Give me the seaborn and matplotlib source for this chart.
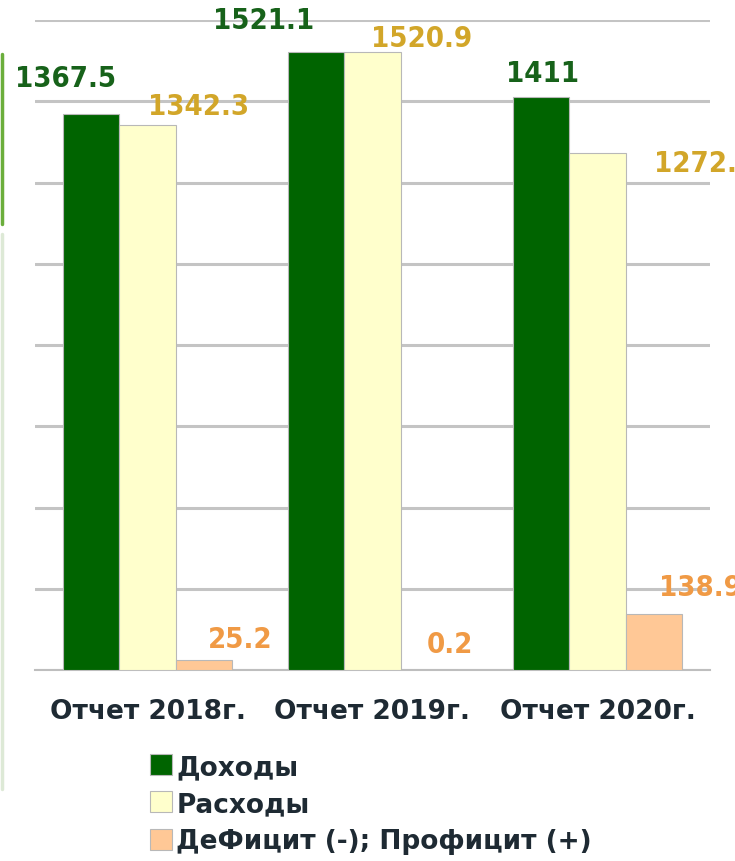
import numpy as np
import pandas as pd
import matplotlib
matplotlib.use("Agg")
import matplotlib.pyplot as plt
from matplotlib.lines import Line2D
import seaborn as sns

categories = ["Отчет 2018г.", "Отчет 2019г.", "Отчет 2020г."]
series = ["Доходы", "Расходы", "ДеФицит (-); Профицит (+)"]
income = [1367.5, 1521.1, 1411]
expenses = [1342.3, 1520.9, 1272.1]
balance = [25.2, 0.2, 138.9]
label_texts = [["1367.5", "1521.1", "1411"],
               ["1342.3", "1520.9", "1272.1"],
               ["25.2", "0.2", "138.9"]]

bar_colors = ["#006400", "#FFFFCC", "#FFC896"]
label_colors = ["#17621A", "#D2A629", "#F09A45"]
# label offsets in pixels relative to the top-centre of each bar
label_offsets = [[(-26, 36), (-53, 32), (1, 24)],
                 [(51, 19), (49, 14), (107, -10)],
                 [(36, 21), (21, 26), (47, 27)]]

df = pd.DataFrame({
    "cat": categories * 3,
    "series": [series[0]] * 3 + [series[1]] * 3 + [series[2]] * 3,
    "value": income + expenses + balance,
})

sns.set_theme(style="white")
plt.rcParams["font.family"] = ["DejaVu Sans"]

fig = plt.figure(figsize=(7.35, 8.62), dpi=100)
ax = fig.add_axes([35 / 735, 1 - 671 / 862, 675 / 735, 650 / 862])

sns.barplot(data=df, x="cat", y="value", hue="series", hue_order=series,
            order=categories, palette=bar_colors, width=0.75, saturation=1,
            edgecolor="#B8B8B8", linewidth=0.8, ax=ax, zorder=3)

ax.set_ylim(0, 1600)
ax.set_xlim(-0.5, 2.5)
ax.set_yticks(np.arange(0, 1601, 200))
ax.yaxis.grid(True, color="#C4C4C4", linewidth=2.2, zorder=0)
ax.set_axisbelow(True)
ax.tick_params(axis="y", left=False, labelleft=False)
for s in ["top", "right", "left"]:
    ax.spines[s].set_visible(False)
ax.spines["bottom"].set_color("#BEBEBE")
ax.spines["bottom"].set_linewidth(1.5)
ax.set_xlabel("")
ax.set_ylabel("")
ax.set_xticks(range(3))
ax.set_xticklabels(categories, fontsize=19, fontweight="bold", color="#1E2A33")
ax.tick_params(axis="x", which="major", length=0, pad=20)
ax.set_xticks([-0.5, 0.5, 1.5, 2.5], minor=True)
ax.tick_params(axis="x", which="minor", length=8, width=1.5, color="#BEBEBE")

for i, cont in enumerate(ax.containers):
    for j, bar in enumerate(cont):
        xc = bar.get_x() + bar.get_width() / 2
        top = bar.get_height()
        dx, dy = label_offsets[i][j]
        ax.annotate(label_texts[i][j], (xc, top), xytext=(dx, dy),
                    textcoords="offset pixels", ha="center", va="center",
                    fontsize=21, fontweight="bold", color=label_colors[i],
                    fontstretch="condensed", annotation_clip=False, zorder=5)

h, l = ax.get_legend_handles_labels()
if ax.legend_ is not None:
    ax.legend_.remove()
fig.legend(h, l, loc="upper left", bbox_to_anchor=(150 / 735, 1 - 755 / 862),
           frameon=False, handlelength=0.85, handleheight=0.85,
           handletextpad=0.15, labelspacing=0.42, borderpad=0, borderaxespad=0,
           labelcolor="#1E2A33", prop={"weight": "semibold", "size": 19})

# decorative bars along the left edge
fig.add_artist(Line2D([1.5 / 735, 1.5 / 735], [1 - 55 / 862, 1 - 225 / 862],
                      color="#6BAE3C", linewidth=2.5))
fig.add_artist(Line2D([1.5 / 735, 1.5 / 735], [1 - 235 / 862, 1 - 790 / 862],
                      color="#DDE9D6", linewidth=2.5))

fig.savefig("out.png", dpi=100)
